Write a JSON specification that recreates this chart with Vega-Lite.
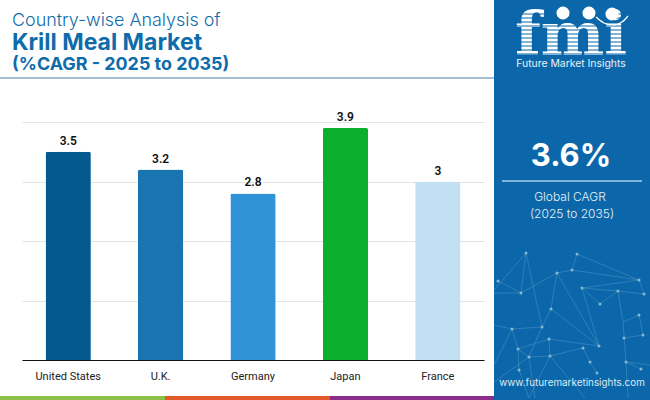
{
  "$schema": "https://vega.github.io/schema/vega-lite/v6.json",
  "width": 462,
  "height": 238,
  "autosize": "none",
  "padding": {"left": 22, "top": 122, "right": 166, "bottom": 40},
  "background": "white",
  "title": {
    "text": "Country-wise Analysis of",
    "subtitle": "Krill Meal Market",
    "frame": "group",
    "anchor": "start",
    "dx": -10,
    "offset": -55,
    "font": "Inter",
    "fontSize": 17.9,
    "fontWeight": 300,
    "color": "#0f6cab",
    "subtitleFont": "Inter",
    "subtitleFontSize": 23,
    "subtitleFontWeight": 700,
    "subtitleColor": "#0f6cab",
    "subtitlePadding": 2
  },
  "datasets": {
    "bars": [
      {"country": "United States", "cagr": 3.5},
      {"country": "U.K.", "cagr": 3.2},
      {"country": "Germany", "cagr": 2.8},
      {"country": "Japan", "cagr": 3.9},
      {"country": "France", "cagr": 3}
    ],
    "blocks": [
      {"part": "panel", "x": 494, "x2": 650, "y": 0, "y2": 400},
      {"part": "green", "x": 0, "x2": 165, "y": 396, "y2": 400},
      {"part": "orange", "x": 165, "x2": 330, "y": 396, "y2": 400},
      {"part": "purple", "x": 330, "x2": 494, "y": 396, "y2": 400}
    ],
    "links": [
      {"x": 526, "y": 253, "x2": 521, "y2": 293},
      {"x": 526, "y": 253, "x2": 542, "y2": 327},
      {"x": 526, "y": 253, "x2": 494, "y2": 290},
      {"x": 521, "y": 293, "x2": 557, "y2": 273},
      {"x": 521, "y": 293, "x2": 498, "y2": 281},
      {"x": 521, "y": 293, "x2": 494, "y2": 293},
      {"x": 557, "y": 273, "x2": 572, "y2": 270},
      {"x": 557, "y": 273, "x2": 551, "y2": 309},
      {"x": 557, "y": 273, "x2": 599, "y2": 346},
      {"x": 572, "y": 270, "x2": 639, "y2": 280},
      {"x": 577, "y": 254, "x2": 639, "y2": 280},
      {"x": 572, "y": 270, "x2": 577, "y2": 254},
      {"x": 582, "y": 288, "x2": 639, "y2": 280},
      {"x": 582, "y": 288, "x2": 618, "y2": 291},
      {"x": 582, "y": 288, "x2": 600, "y2": 304},
      {"x": 582, "y": 288, "x2": 599, "y2": 346},
      {"x": 618, "y": 291, "x2": 644, "y2": 294},
      {"x": 618, "y": 291, "x2": 600, "y2": 304},
      {"x": 618, "y": 291, "x2": 623, "y2": 322},
      {"x": 639, "y": 280, "x2": 644, "y2": 294},
      {"x": 623, "y": 322, "x2": 639, "y2": 315},
      {"x": 623, "y": 322, "x2": 626, "y2": 362},
      {"x": 626, "y": 362, "x2": 628, "y2": 398},
      {"x": 624, "y": 338, "x2": 643, "y2": 335},
      {"x": 639, "y": 315, "x2": 643, "y2": 335},
      {"x": 626, "y": 362, "x2": 650, "y2": 365},
      {"x": 551, "y": 309, "x2": 542, "y2": 327},
      {"x": 551, "y": 309, "x2": 599, "y2": 346},
      {"x": 542, "y": 327, "x2": 512, "y2": 329},
      {"x": 542, "y": 327, "x2": 529, "y2": 357},
      {"x": 512, "y": 329, "x2": 494, "y2": 325},
      {"x": 512, "y": 329, "x2": 518, "y2": 349},
      {"x": 512, "y": 329, "x2": 494, "y2": 365},
      {"x": 549, "y": 339, "x2": 599, "y2": 346},
      {"x": 549, "y": 339, "x2": 518, "y2": 349},
      {"x": 549, "y": 339, "x2": 550, "y2": 356},
      {"x": 550, "y": 356, "x2": 583, "y2": 348},
      {"x": 550, "y": 356, "x2": 529, "y2": 357},
      {"x": 550, "y": 356, "x2": 529, "y2": 398},
      {"x": 550, "y": 356, "x2": 585, "y2": 398},
      {"x": 583, "y": 348, "x2": 590, "y2": 362},
      {"x": 590, "y": 362, "x2": 597, "y2": 373},
      {"x": 518, "y": 349, "x2": 519, "y2": 370},
      {"x": 518, "y": 349, "x2": 529, "y2": 357},
      {"x": 529, "y": 357, "x2": 494, "y2": 382},
      {"x": 529, "y": 357, "x2": 535, "y2": 398},
      {"x": 519, "y": 370, "x2": 529, "y2": 398},
      {"x": 626, "y": 362, "x2": 641, "y2": 369}
    ],
    "nodes": [
      {"x": 526, "y": 253}, {"x": 521, "y": 293}, {"x": 557, "y": 273}, {"x": 572, "y": 270},
      {"x": 577, "y": 254}, {"x": 639, "y": 280}, {"x": 618, "y": 291}, {"x": 582, "y": 288},
      {"x": 600, "y": 304}, {"x": 644, "y": 294}, {"x": 551, "y": 309}, {"x": 542, "y": 327},
      {"x": 512, "y": 329}, {"x": 549, "y": 339}, {"x": 599, "y": 346}, {"x": 583, "y": 348},
      {"x": 518, "y": 349}, {"x": 529, "y": 357}, {"x": 550, "y": 356}, {"x": 590, "y": 362},
      {"x": 519, "y": 370}, {"x": 624, "y": 338}, {"x": 639, "y": 315}, {"x": 643, "y": 335},
      {"x": 626, "y": 362}, {"x": 641, "y": 369}, {"x": 597, "y": 373}, {"x": 498, "y": 281}
    ],
    "stripes": [
      {"y": 14}, {"y": 18}, {"y": 22}, {"y": 26}, {"y": 30}, {"y": 34}, {"y": 38}, {"y": 42}, {"y": 46}, {"y": 50}, {"y": 54}
    ]
  },
  "layer": [
    {
      "data": {"name": "bars"},
      "mark": {"type": "bar", "cornerRadiusTopLeft": 2, "cornerRadiusTopRight": 2},
      "encoding": {
        "x": {
          "field": "country",
          "type": "nominal",
          "sort": null,
          "scale": {"paddingInner": 0.51, "paddingOuter": 0.255},
          "axis": {
            "title": null,
            "labelAngle": 0,
            "labelFont": "Roboto",
            "labelFontSize": 11,
            "labelColor": "#222222",
            "labelPadding": 10,
            "ticks": false,
            "domainColor": "#111111",
            "domainWidth": 1.2
          }
        },
        "y": {
          "field": "cagr",
          "type": "quantitative",
          "scale": {"domain": [0, 4]},
          "axis": {
            "title": null,
            "labels": false,
            "ticks": false,
            "domain": false,
            "tickCount": 4,
            "grid": true,
            "gridColor": "#e4e4e4"
          }
        },
        "color": {
          "field": "country",
          "type": "nominal",
          "legend": null,
          "scale": {
            "domain": ["United States", "U.K.", "Germany", "Japan", "France"],
            "range": ["#03588e", "#1a74b0", "#2f93d8", "#0aaf2e", "#c3e0f3"]
          }
        }
      }
    },
    {
      "data": {"name": "bars"},
      "mark": {"type": "text", "font": "Roboto", "fontSize": 12, "fontWeight": 600, "color": "#111111", "dy": -11},
      "encoding": {
        "x": {
          "field": "country",
          "type": "nominal",
          "sort": null,
          "scale": {"paddingInner": 0.51, "paddingOuter": 0.255},
          "axis": null
        },
        "y": {"field": "cagr", "type": "quantitative", "scale": {"domain": [0, 4]}, "axis": null},
        "text": {"field": "cagr", "type": "quantitative"}
      }
    },
    {
      "data": {"values": [{"x": 12, "y": 65, "label": "(%CAGR - 2025 to 2035)"}]},
      "mark": {"type": "text", "font": "Inter", "fontSize": 17.9, "fontWeight": 700, "color": "#0f6cab", "align": "left", "baseline": "middle"},
      "encoding": {
        "x": {"field": "x", "type": "quantitative", "scale": {"domain": [0, 650], "range": [-22, 628]}, "axis": null},
        "y": {"field": "y", "type": "quantitative", "scale": {"domain": [0, 400], "range": [-122, 278]}, "axis": null},
        "text": {"field": "label"}
      }
    },
    {
      "data": {"name": "blocks"},
      "mark": {"type": "rect", "clip": false},
      "encoding": {
        "x": {"field": "x", "type": "quantitative", "scale": {"domain": [0, 650], "range": [-22, 628]}, "axis": null},
        "x2": {"field": "x2"},
        "y": {"field": "y", "type": "quantitative", "scale": {"domain": [0, 400], "range": [-122, 278]}, "axis": null},
        "y2": {"field": "y2"},
        "color": {
          "field": "part",
          "type": "nominal",
          "legend": null,
          "scale": {
            "domain": ["panel", "green", "orange", "purple"],
            "range": ["#0b67a9", "#8cbf45", "#e2592a", "#8c2c8c"]
          }
        }
      }
    },
    {
      "data": {"values": [{"x": 0, "x2": 494, "y": 78}]},
      "mark": {"type": "rule", "color": "#84aac2", "strokeWidth": 1.5},
      "encoding": {
        "x": {"field": "x", "type": "quantitative", "scale": {"domain": [0, 650], "range": [-22, 628]}, "axis": null},
        "x2": {"field": "x2"},
        "y": {"field": "y", "type": "quantitative", "scale": {"domain": [0, 400], "range": [-122, 278]}, "axis": null}
      }
    },
    {
      "data": {"name": "links"},
      "mark": {"type": "rule", "color": "#5fa3cc", "strokeWidth": 0.6, "opacity": 0.7},
      "encoding": {
        "x": {"field": "x", "type": "quantitative", "scale": {"domain": [0, 650], "range": [-22, 628]}, "axis": null},
        "x2": {"field": "x2"},
        "y": {"field": "y", "type": "quantitative", "scale": {"domain": [0, 400], "range": [-122, 278]}, "axis": null},
        "y2": {"field": "y2"}
      }
    },
    {
      "data": {"name": "nodes"},
      "mark": {"type": "circle", "color": "#8fc0d0", "size": 9, "opacity": 0.9},
      "encoding": {
        "x": {"field": "x", "type": "quantitative", "scale": {"domain": [0, 650], "range": [-22, 628]}, "axis": null},
        "y": {"field": "y", "type": "quantitative", "scale": {"domain": [0, 400], "range": [-122, 278]}, "axis": null}
      }
    },
    {
      "data": {"values": [{"x": 571, "y": 55, "label": "fmi"}]},
      "mark": {"type": "text", "font": "DejaVu Serif", "fontWeight": 700, "fontSize": 60, "color": "white", "baseline": "alphabetic", "align": "center"},
      "encoding": {
        "x": {"field": "x", "type": "quantitative", "scale": {"domain": [0, 650], "range": [-22, 628]}, "axis": null},
        "y": {"field": "y", "type": "quantitative", "scale": {"domain": [0, 400], "range": [-122, 278]}, "axis": null},
        "text": {"field": "label"}
      }
    },
    {
      "data": {"name": "stripes"},
      "mark": {"type": "rule", "color": "#0b67a9", "strokeWidth": 1},
      "encoding": {
        "x": {"datum": 510, "type": "quantitative", "scale": {"domain": [0, 650], "range": [-22, 628]}, "axis": null},
        "x2": {"datum": 635},
        "y": {"field": "y", "type": "quantitative", "scale": {"domain": [0, 400], "range": [-122, 278]}, "axis": null}
      }
    },
    {
      "data": {"values": [{"x": 563, "y": 13}, {"x": 589, "y": 13}, {"x": 612, "y": 14}]},
      "mark": {"type": "circle", "color": "white", "size": 170, "opacity": 1},
      "encoding": {
        "x": {"field": "x", "type": "quantitative", "scale": {"domain": [0, 650], "range": [-22, 628]}, "axis": null},
        "y": {"field": "y", "type": "quantitative", "scale": {"domain": [0, 400], "range": [-122, 278]}, "axis": null}
      }
    },
    {
      "data": {"values": [{"x": 596, "y": 17}, {"x": 604, "y": 23}, {"x": 613, "y": 25}, {"x": 622, "y": 22}, {"x": 628, "y": 16}]},
      "mark": {"type": "line", "color": "white", "strokeWidth": 1.2, "interpolate": "monotone"},
      "encoding": {
        "x": {"field": "x", "type": "quantitative", "scale": {"domain": [0, 650], "range": [-22, 628]}, "axis": null},
        "y": {"field": "y", "type": "quantitative", "scale": {"domain": [0, 400], "range": [-122, 278]}, "axis": null}
      }
    },
    {
      "data": {"values": [{"x": 571, "y": 64, "label": "Future Market Insights"}]},
      "mark": {"type": "text", "font": "Inter", "fontSize": 10.4, "color": "#e8f2f9", "baseline": "middle"},
      "encoding": {
        "x": {"field": "x", "type": "quantitative", "scale": {"domain": [0, 650], "range": [-22, 628]}, "axis": null},
        "y": {"field": "y", "type": "quantitative", "scale": {"domain": [0, 400], "range": [-122, 278]}, "axis": null},
        "text": {"field": "label"}
      }
    },
    {
      "data": {"values": [{"x": 571, "y": 157, "label": "3.6%"}]},
      "mark": {"type": "text", "font": "Inter", "fontSize": 31, "fontWeight": 700, "color": "white", "baseline": "middle"},
      "encoding": {
        "x": {"field": "x", "type": "quantitative", "scale": {"domain": [0, 650], "range": [-22, 628]}, "axis": null},
        "y": {"field": "y", "type": "quantitative", "scale": {"domain": [0, 400], "range": [-122, 278]}, "axis": null},
        "text": {"field": "label"}
      }
    },
    {
      "data": {"values": [{"x": 502, "x2": 642, "y": 181}]},
      "mark": {"type": "rule", "color": "#a9cde4", "strokeWidth": 1.5},
      "encoding": {
        "x": {"field": "x", "type": "quantitative", "scale": {"domain": [0, 650], "range": [-22, 628]}, "axis": null},
        "x2": {"field": "x2"},
        "y": {"field": "y", "type": "quantitative", "scale": {"domain": [0, 400], "range": [-122, 278]}, "axis": null}
      }
    },
    {
      "data": {"values": [{"x": 570, "y": 197, "label": "Global CAGR"}, {"x": 572, "y": 214, "label": "(2025 to 2035)"}]},
      "mark": {"type": "text", "font": "Inter", "fontSize": 12, "fontWeight": 300, "color": "#e8f2f9", "baseline": "middle"},
      "encoding": {
        "x": {"field": "x", "type": "quantitative", "scale": {"domain": [0, 650], "range": [-22, 628]}, "axis": null},
        "y": {"field": "y", "type": "quantitative", "scale": {"domain": [0, 400], "range": [-122, 278]}, "axis": null},
        "text": {"field": "label"}
      }
    },
    {
      "data": {"values": [{"x": 572, "y": 383, "label": "www.futuremarketinsights.com"}]},
      "mark": {"type": "text", "font": "Inter", "fontSize": 9.9, "color": "#dcecf6", "baseline": "middle"},
      "encoding": {
        "x": {"field": "x", "type": "quantitative", "scale": {"domain": [0, 650], "range": [-22, 628]}, "axis": null},
        "y": {"field": "y", "type": "quantitative", "scale": {"domain": [0, 400], "range": [-122, 278]}, "axis": null},
        "text": {"field": "label"}
      }
    }
  ],
  "resolve": {
    "scale": {"x": "independent", "y": "independent", "color": "independent"},
    "axis": {"x": "independent", "y": "independent"}
  },
  "config": {"view": {"stroke": null}}
}
